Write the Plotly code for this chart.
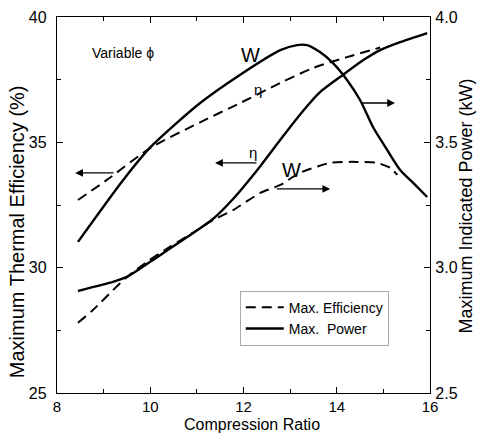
import plotly.graph_objects as go

# ---- data ----
# Max. Efficiency: efficiency (left axis, %)
eff_eta_x = [8.45, 9.07, 10.0, 11.07, 11.93, 12.79, 13.5, 14.22, 14.93]
eff_eta_y = [32.7, 33.5, 34.77, 35.8, 36.57, 37.37, 37.97, 38.4, 38.78]

# Max. Efficiency: power (right axis, kW)
eff_w_x = [8.45, 8.77, 9.2, 9.5, 9.93, 10.42, 10.92, 11.35, 11.78, 12.36, 12.79, 13.21, 13.86, 14.43, 14.86, 15.15, 15.3]
eff_w_y = [2.78, 2.831, 2.91, 2.963, 3.023, 3.083, 3.14, 3.19, 3.23, 3.298, 3.33, 3.378, 3.418, 3.422, 3.418, 3.398, 3.37]

# Max. Power: efficiency (left axis, %)
pow_eta_x = [8.45, 9.14, 9.5, 10.21, 10.92, 11.35, 11.78, 12.36, 12.79, 13.21, 13.64, 14.14, 14.57, 14.93, 15.36, 15.94]
pow_eta_y = [29.07, 29.4, 29.63, 30.5, 31.38, 31.95, 32.75, 34.05, 35.1, 36.1, 37.0, 37.7, 38.28, 38.68, 39.0, 39.36]

# Max. Power: power (right axis, kW)
pow_w_x = [8.45, 9.42, 10.0, 11.07, 11.93, 12.79, 13.15, 13.36, 13.64, 13.92, 14.22, 14.5, 14.78, 15.08, 15.36, 15.64, 15.94]
pow_w_y = [3.103, 3.35, 3.48, 3.657, 3.77, 3.868, 3.888, 3.888, 3.86, 3.816, 3.749, 3.669, 3.56, 3.47, 3.39, 3.338, 3.282]

x_range = [8, 16]
y_left_range = [25, 40]
y_right_range = [2.5, 4.0]

legend_names = ["Max. Efficiency", "Max.\u00a0 Power"]

FONT = "Liberation Sans, Arial, sans-serif"
DASH = "10px,6px"
SMOOTH = 0.7

fig = go.Figure()
fig.add_trace(go.Scatter(x=eff_eta_x, y=eff_eta_y, mode="lines", yaxis="y",
                         line=dict(color="black", width=2, dash=DASH, shape="spline", smoothing=SMOOTH),
                         name=legend_names[0], legendgroup="eff", showlegend=True))
fig.add_trace(go.Scatter(x=eff_w_x, y=eff_w_y, mode="lines", yaxis="y2",
                         line=dict(color="black", width=2, dash=DASH, shape="spline", smoothing=SMOOTH),
                         name=legend_names[0], legendgroup="eff", showlegend=False))
fig.add_trace(go.Scatter(x=pow_eta_x, y=pow_eta_y, mode="lines", yaxis="y",
                         line=dict(color="black", width=2.4, shape="spline", smoothing=SMOOTH),
                         name=legend_names[1], legendgroup="pow", showlegend=True))
fig.add_trace(go.Scatter(x=pow_w_x, y=pow_w_y, mode="lines", yaxis="y2",
                         line=dict(color="black", width=2.4, shape="spline", smoothing=SMOOTH),
                         name=legend_names[1], legendgroup="pow", showlegend=False))

axis_common = dict(showline=True, linecolor="black", linewidth=1.3, ticks="inside",
                   tickcolor="black", ticklen=6, tickwidth=1, showgrid=False, zeroline=False,
                   automargin=False,
                   tickfont=dict(family=FONT, size=16, color="black"))

fig.update_layout(
    width=477, height=442, autosize=False,
    margin=dict(l=57, r=47, t=17, b=49, autoexpand=False),
    paper_bgcolor="white", plot_bgcolor="white",
    font=dict(family=FONT, color="black"),
    xaxis=dict(range=x_range, dtick=2, tick0=8, mirror="ticks",
               minor=dict(dtick=1, ticks="inside", ticklen=4, tickcolor="black"),
               ticklabelstandoff=0, **axis_common),
    yaxis=dict(range=y_left_range, dtick=5, tick0=25,
               minor=dict(dtick=2.5, ticks="inside", ticklen=4, tickcolor="black"),
               ticklabelstandoff=6, **axis_common),
    yaxis2=dict(range=y_right_range, dtick=0.5, tick0=2.5, tickformat=".1f",
                overlaying="y", side="right",
                minor=dict(dtick=0.25, ticks="inside", ticklen=4, tickcolor="black"),
                ticklabelstandoff=1, **axis_common),
    legend=dict(x=0.49, y=0.272, xanchor="left", yanchor="top",
                bgcolor="rgba(255,255,255,0)", bordercolor="#aaaaaa", borderwidth=1,
                font=dict(family=FONT, size=14, color="black"),
                itemwidth=38, traceorder="normal", tracegroupgap=3),
    showlegend=True,
)
fig.update_xaxes(tickfont=dict(family=FONT, size=15, color="black"))

# axis titles
fig.add_annotation(text="Maximum Thermal Efficiency (%)", xref="paper", yref="paper",
                   x=-0.107, y=0.428, xanchor="center", yanchor="middle", textangle=-90,
                   showarrow=False, font=dict(family=FONT, size=20, color="black"))
fig.add_annotation(text="Maximum Indicated Power (kW)", xref="paper", yref="paper",
                   x=1.094, y=0.496, xanchor="center", yanchor="middle", textangle=-90,
                   showarrow=False, font=dict(family=FONT, size=18, color="black"))
fig.add_annotation(text="Compression Ratio", xref="paper", yref="paper",
                   x=0.523, y=-0.084, xanchor="center", yanchor="middle",
                   showarrow=False, font=dict(family=FONT, size=16, color="black"))

# in-plot labels
fig.add_annotation(text="Variable \u03d5", x=9.42, y=38.56, xref="x", yref="y", showarrow=False,
                   font=dict(family=FONT, size=14, color="black"))
labels = [("W", 12.14, 38.5, 20), ("\u03b7", 12.31, 37.1, 15),
          ("\u03b7", 12.2, 34.6, 15), ("W", 13.04, 33.9, 20)]
for t, lx, ly, sz in labels:
    fig.add_annotation(text=t, x=lx, y=ly, xref="x", yref="y", showarrow=False,
                       font=dict(family=FONT, size=sz, color="black"))

# arrows (head, tail)
arrows = [((8.39, 33.78), (9.245, 33.78)),
          ((11.39, 34.18), (12.31, 34.18)),
          ((15.25, 36.57), (14.50, 36.57)),
          ((13.86, 33.14), (12.68, 33.14))]
for (hx, hy), (tx, ty) in arrows:
    fig.add_annotation(x=hx, y=hy, ax=tx, ay=ty, xref="x", yref="y", axref="x", ayref="y",
                       text="", showarrow=True, arrowhead=2, arrowsize=1.2, arrowwidth=1.3,
                       arrowcolor="black")

fig.write_html("out.html", config={"displayModeBar": False},
               post_script="document.body.style.margin='0';document.body.style.overflow='hidden';")
